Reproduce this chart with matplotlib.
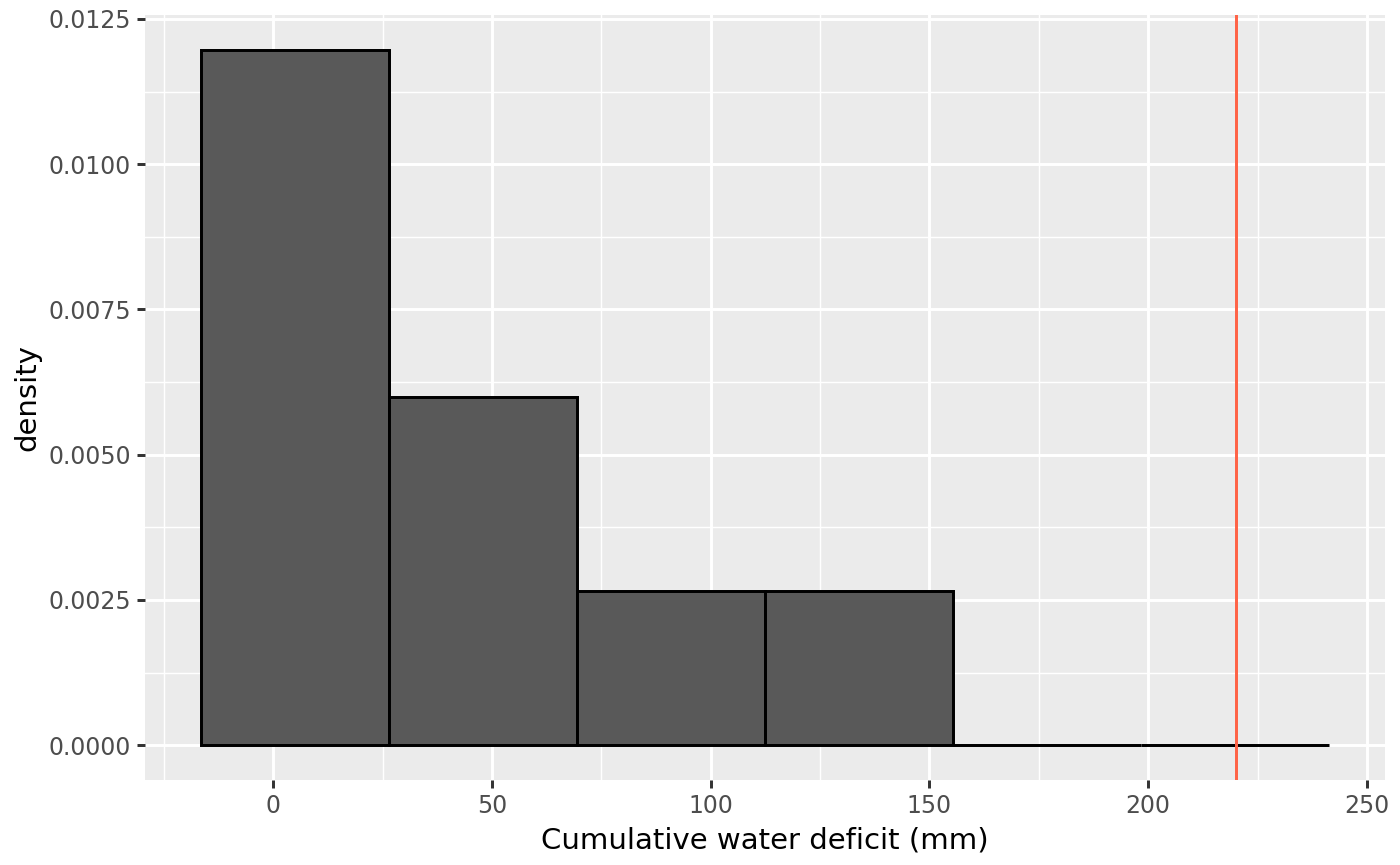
import matplotlib
matplotlib.use("Agg")
import matplotlib.pyplot as plt
from matplotlib.ticker import FormatStrFormatter, MultipleLocator

# histogram bins
bin_left = [-16.45, 26.5, 69.45, 112.4, 155.35, 198.3]
bin_width = 42.95
bin_density = [0.01197, 0.00599, 0.00266, 0.00266, 0.0, 0.0]
threshold = 220

x_ticks = [0, 50, 100, 150, 200, 250]
y_ticks = [0.0, 0.0025, 0.005, 0.0075, 0.01, 0.0125]

plt.rcParams['font.family'] = ['DejaVu Sans']

fig = plt.figure(figsize=(7, 4.325), dpi=200)
ax = fig.add_axes([145 / 1400, 1 - 780 / 865, 1240 / 1400, 765 / 865])
ax.set_facecolor('#EBEBEB')

# grid like ggplot
ax.set_xticks(x_ticks)
ax.set_yticks(y_ticks)
ax.xaxis.set_minor_locator(MultipleLocator(25))
ax.yaxis.set_minor_locator(MultipleLocator(0.00125))
ax.grid(which='major', color='white', linewidth=1.07)
ax.grid(which='minor', color='white', linewidth=0.53)
ax.set_axisbelow(True)

ax.bar(bin_left, bin_density, width=bin_width, align='edge',
       color='#595959', edgecolor='black', linewidth=1.07, zorder=2)
ax.axvline(threshold, color='#FF6347', linewidth=1.07, zorder=3)

xmin = bin_left[0]
xmax = bin_left[-1] + bin_width
pad = (xmax - xmin) * 0.05
ax.set_xlim(xmin - pad, xmax + pad)
ymax = max(bin_density)
ax.set_ylim(-ymax * 0.05, ymax * 1.05)

ax.yaxis.set_major_formatter(FormatStrFormatter('%.4f'))
ax.tick_params(which='major', length=2.75, width=1.07, color='#333333',
               labelsize=8.5, labelcolor='#4D4D4D', pad=2.2)
ax.tick_params(which='minor', length=0)

for s in ax.spines.values():
    s.set_visible(False)

ax.set_xlabel('Cumulative water deficit (mm)', fontsize=10.5, labelpad=3)
ax.set_ylabel('density', fontsize=10.5, labelpad=2.5)

fig.savefig('out.png', dpi=200)
